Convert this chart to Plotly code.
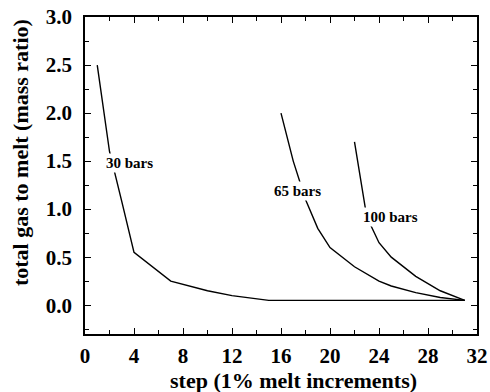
import plotly.graph_objects as go

# 30 bars series
x30 = [1, 2, 3, 4, 7, 10, 12, 15, 31]
y30 = [2.5, 1.6, 1.08, 0.55, 0.25, 0.15, 0.10, 0.05, 0.05]
# 65 bars series
x65 = [16, 17, 18, 19, 20, 22, 24, 25, 27, 29, 31]
y65 = [2.0, 1.5, 1.1, 0.8, 0.6, 0.4, 0.25, 0.2, 0.13, 0.08, 0.05]
# 100 bars series
x100 = [22, 23, 24, 25, 27, 29, 31]
y100 = [1.7, 0.92, 0.65, 0.5, 0.3, 0.15, 0.05]

labels = ["30 bars", "65 bars", "100 bars"]
label_x = [3.65, 17.35, 24.9]
label_y = [1.48, 1.19, 0.915]

xticks = [0, 4, 8, 12, 16, 20, 24, 28, 32]
yticks = [0.0, 0.5, 1.0, 1.5, 2.0, 2.5, 3.0]

x_title = "step (1% melt increments)"
y_title = "total gas to melt (mass ratio)"

FONT = "Liberation Serif"

fig = go.Figure()
for xs, ys in [(x30, y30), (x65, y65), (x100, y100)]:
    fig.add_trace(go.Scatter(x=xs, y=ys, mode="lines",
                             line=dict(color="black", width=1.4),
                             showlegend=False, hoverinfo="skip"))

for t, lx, ly in zip(labels, label_x, label_y):
    fig.add_annotation(x=lx, y=ly, text="<b>" + t + "</b>", showarrow=False,
                       font=dict(family=FONT, size=15, color="black"),
                       bgcolor="white", borderpad=1)

# axis titles
fig.add_annotation(xref="paper", yref="paper", x=0.533, y=-0.148,
                   text="<b>" + x_title + "</b>", showarrow=False,
                   xanchor="center", yanchor="middle",
                   font=dict(family=FONT, size=22, color="black"))
fig.add_annotation(xref="paper", yref="paper", x=-0.163, y=0.571,
                   text="<b>" + y_title + "</b>", showarrow=False, textangle=-90,
                   xanchor="center", yanchor="middle",
                   font=dict(family=FONT, size=22, color="black"))

axis_common = dict(
    showline=True, linecolor="black", linewidth=1.5, mirror="allticks",
    ticks="inside", ticklen=6, tickwidth=1.2, tickcolor="black",
    showgrid=False, zeroline=False, automargin=False,
    tickfont=dict(family=FONT, size=21, color="black"),
)

fig.update_xaxes(range=[0, 32], tickvals=xticks,
                 ticktext=["<b>%d</b>" % v for v in xticks],
                 ticklabelstandoff=2,
                 minor=dict(dtick=2, tick0=0, ticks="inside", ticklen=4,
                            tickwidth=1.2, tickcolor="black"),
                 **axis_common)
fig.update_yaxes(range=[-0.3, 3.0], tickvals=yticks,
                 ticktext=["<b>%.1f</b>" % v for v in yticks],
                 ticklabelstandoff=7,
                 minor=dict(dtick=0.25, tick0=0, ticks="inside", ticklen=4,
                            tickwidth=1.2, tickcolor="black"),
                 **axis_common)

fig.update_layout(width=490, height=392,
                  font=dict(family=FONT, color="black"),
                  margin=dict(l=85, r=13, t=17, b=58),
                  plot_bgcolor="white", paper_bgcolor="white")

fig.write_html("out.html")
